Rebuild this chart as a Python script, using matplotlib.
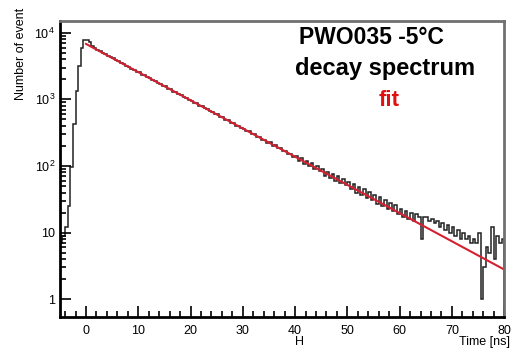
import numpy as np
import matplotlib
matplotlib.use("Agg")
import matplotlib.pyplot as plt
from matplotlib.ticker import FixedLocator, NullFormatter

plt.rcParams['font.family'] = ['Liberation Sans', 'DejaVu Sans']
plt.rcParams['mathtext.default'] = 'regular'

# histogram: 0.5 ns bins from -5 ns to 80 ns
bin_start = -5.0
bin_width = 0.5
counts = [
    7, 9, 12, 25, 97, 425, 1350, 3200, 6000, 7700,                  # -5 .. 0
    7800, 7200, 6400, 5800, 5450, 5250, 4900, 4800, 4450, 4300,     # 0 .. 5
    4150, 3850, 3750, 3480, 3400, 3150, 3080, 2870, 2800, 2600,     # 5 .. 10
    2540, 2350, 2300, 2140, 2090, 1940, 1890, 1760, 1720, 1600,     # 10 .. 15
    1560, 1450, 1420, 1310, 1290, 1190, 1170, 1080, 1060, 980,      # 15 .. 20
    960, 890, 875, 805, 795, 730, 720, 660, 655, 600,               # 20 .. 25
    595, 545, 540, 490, 490, 445, 445, 405, 400, 368,               # 25 .. 30
    365, 330, 332, 300, 300, 272, 272, 247, 247, 225,               # 30 .. 35
    226, 203, 205, 184, 187, 166, 169, 150, 154, 137,               # 35 .. 40
    142, 120, 130, 108, 118, 99, 110, 90, 100, 84,                  # 40 .. 45
    90, 72, 82, 66, 76, 60, 70, 55, 63, 52,                         # 45 .. 50
    57, 45, 53, 40, 48, 37, 45, 33, 41, 31,                         # 50 .. 55
    37, 27, 34, 25, 31, 23, 28, 21, 26, 19,                         # 55 .. 60
    23, 17, 21, 16, 20, 15, 19, 17, 8, 17,                          # 60 .. 65
    17, 15, 16, 14, 15, 12, 14, 11, 13, 10,                         # 65 .. 70
    12, 9, 11, 8, 10, 8, 9, 7, 8, 7,                                # 70 .. 75
    10, 1, 3, 6, 5, 12, 4, 9, 7, 8,                                 # 75 .. 80
]

# exponential fit (straight on log scale) - end points
fit_t = [0.0, 80.0]
fit_y = [6800.0, 2.8]

y_ticks = [1, 10, 100, 1000, 10000]
y_labels = ['1', '10', '$10^2$', '$10^3$', '$10^4$']
x_ticks = [0, 10, 20, 30, 40, 50, 60, 70, 80]

fig = plt.figure(figsize=(5.16, 3.5), dpi=100)
ax = fig.add_axes([0.116, 0.094, 0.861, 0.846])

edges = bin_start + bin_width * np.arange(len(counts) + 1)
ax.stairs(counts, edges, color='#202020', lw=1.1)
ax.plot(fit_t, fit_y, color='#d42030', lw=1.5)

ax.set_yscale('log')
ax.set_xlim(-5, 80)
ax.set_ylim(0.54, 1.5e4)

ax.yaxis.set_major_locator(FixedLocator(y_ticks))
ax.set_yticklabels(y_labels)
ax.yaxis.set_minor_locator(FixedLocator([m * 10 ** e for e in range(0, 4) for m in range(2, 10)]))
ax.yaxis.set_minor_formatter(NullFormatter())
ax.set_xticks(x_ticks)
ax.set_xticks(np.arange(-4, 80, 2), minor=True)

ax.tick_params(which='both', direction='in', top=False, right=False, labelsize=9, width=1.2)
ax.tick_params(which='major', length=8)
ax.tick_params(which='minor', length=4)
ax.tick_params(axis='x', pad=6)

for s in ['left', 'bottom']:
    ax.spines[s].set_linewidth(2)
    ax.spines[s].set_color('black')
for s in ['top', 'right']:
    ax.spines[s].set_linewidth(2)
    ax.spines[s].set_color('#707070')

fig.text(21 / 516, 1 - 8 / 350, 'Number of event', rotation=90, ha='center', va='top', fontsize=9)
fig.text(510 / 516, 1 - 342 / 350, 'Time [ns]', ha='right', va='center', fontsize=9)
fig.text(300 / 516, 1 - 342 / 350, 'H', ha='center', va='center', fontsize=9)

fig.text(371 / 516, 1 - 37 / 350, 'PWO035 -5\u00b0C', ha='center', va='center', fontsize=16.5, fontweight='bold')
fig.text(385 / 516, 1 - 68 / 350, 'decay spectrum', ha='center', va='center', fontsize=17, fontweight='bold')
fig.text(389 / 516, 1 - 100 / 350, 'fit', ha='center', va='center', fontsize=16, fontweight='bold', color='#e01010')

fig.savefig('out.png', dpi=100)
